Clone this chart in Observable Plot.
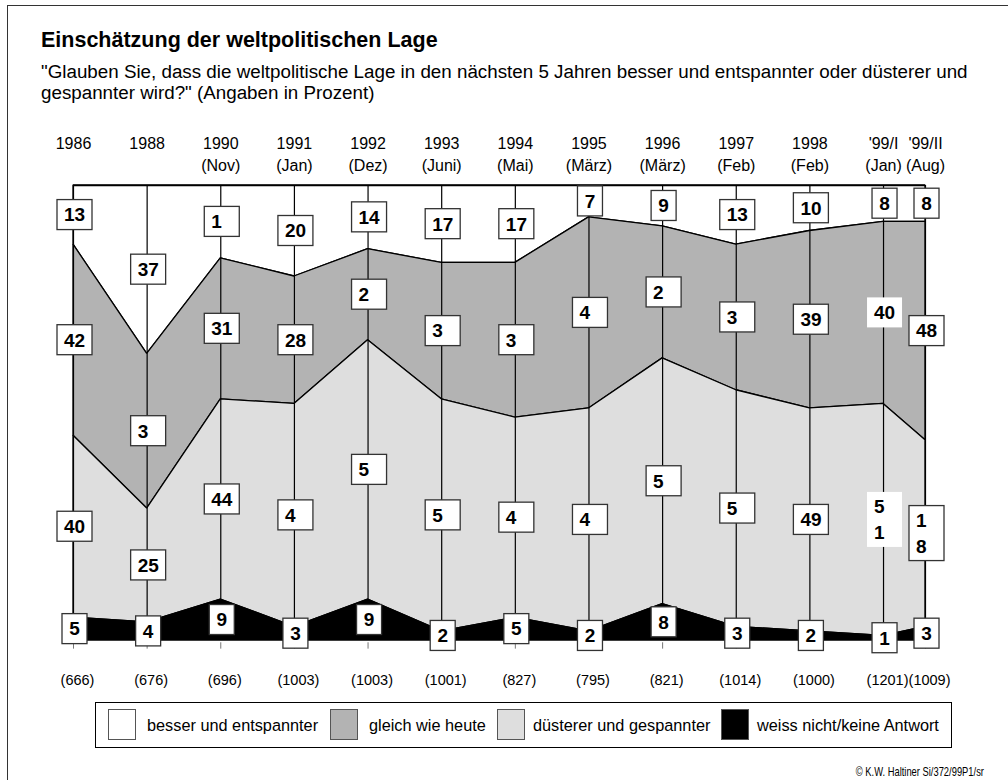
<!DOCTYPE html>
<html><head><meta charset="utf-8">
<script src="https://cdn.jsdelivr.net/npm/d3@7"></script>
<script src="https://cdn.jsdelivr.net/npm/@observablehq/plot@0.6"></script>
<style>
body{margin:0;background:#fff;font-family:"Liberation Sans",Arial,sans-serif;color:#000}
#page{position:relative;width:1008px;height:780px;overflow:hidden;background:#fff}
#frameTop{position:absolute;left:7px;top:5px;width:1001px;height:0;border-top:1px solid #333}
#frameLeft{position:absolute;left:7px;top:5px;width:0;height:775px;border-left:1px solid #333}
#title{position:absolute;left:41px;top:28px;font-size:21.5px;font-weight:bold;line-height:24px;white-space:nowrap}
#sub{position:absolute;left:41px;top:61px;font-size:18.8px;line-height:21px;white-space:nowrap}
#chart{position:absolute;left:0;top:120px}
#legend{position:absolute;left:95px;top:702px;width:855px;height:44px;border:1px solid #000}
.sw{position:absolute;top:6px;width:26px;height:29px;border:1px solid #555}
.lt{position:absolute;top:0;line-height:44px;font-size:16.3px;white-space:nowrap}
#copy{position:absolute;right:24px;top:764px;font-size:13px;line-height:16px;white-space:nowrap;transform:scaleX(0.72);transform-origin:right center}
</style>
</head><body>
<div id="page">
  <div id="frameTop"></div><div id="frameLeft"></div>
  <div id="title">Einschätzung der weltpolitischen Lage</div>
  <div id="sub">"Glauben Sie, dass die weltpolitische Lage in den nächsten 5 Jahren besser und entspannter oder düsterer und<br>gespannter wird?" (Angaben in Prozent)</div>
  <div id="chart"></div>
  <div id="legend"></div>
  <div id="copy">© K.W. Haltiner Si/372/99P1/sr</div>
</div>
<script>
// ---- data ----
const periods = ["1986","1988","1990","1991","1992","1993","1994","1995","1996","1997","1998","'99/I","'99/II"];
const months = ["","","(Nov)","(Jan)","(Dez)","(Juni)","(Mai)","(März)","(März)","(Feb)","(Feb)","(Jan)","(Aug)"];
const sampleSizes = ["(666)","(676)","(696)","(1003)","(1003)","(1001)","(827)","(795)","(821)","(1014)","(1000)","(1201)","(1009)"];
const seriesNames = ["besser und entspannter","gleich wie heute","düsterer und gespannter","weiss nicht/keine Antwort"];
const seriesColors = ["#ffffff","#b3b3b3","#dedede","#000000"];
const besser     = [13,37,16,20,14,17,17, 7, 9,13,10, 8, 8];
const gleich     = [42,34,31,28,20,30,34,42,29,32,39,40,48];
const duesterer  = [40,25,44,49,57,51,44,49,54,52,49,51,41];
const weissNicht = [ 5, 4, 9, 3, 9, 2, 5, 2, 8, 3, 2, 1, 3];
// value labels as printed in the original (some truncated)
const besserLabels     = ["13","37","1","20","14","17","17","7","9","13","10","8","8"];
const gleichLabels     = ["42","3","31","28","2","3","3","4","2","3","39","40","48"];
const duestererLabels  = ["40","25","44","4","5","5","4","4","5","5","49","5\n1","1\n8"];
const weissNichtLabels = ["5","4","9","3","9","2","5","2","8","3","2","1","3"];

// ---- layout helpers ----
const xOf = i => (i === periods.length - 1 ? i - 0.43 : i); // last survey half a year later
const xLast = xOf(periods.length - 1);
const borderless = new Set(["1-11", "2-11"]); // series-index boxes without frame

const seriesValues = [besser, gleich, duesterer, weissNicht];
const seriesLabels = [besserLabels, gleichLabels, duestererLabels, weissNichtLabels];

const rows = [];
const labelRows = [];
periods.forEach((p, i) => {
  let cum = 0;
  seriesValues.forEach((vals, s) => {
    rows.push({x: xOf(i), series: seriesNames[s], value: vals[i]});
    labelRows.push({x: xOf(i), mid: cum + vals[i] / 2, value: vals[i], label: seriesLabels[s][i], border: !borderless.has(s + "-" + i)});
    cum += vals[i];
  });
});
const headers = periods.map((p, i) => ({x: xOf(i), text: months[i] ? p + "\n" + months[i] : p}));
const bottoms = periods.map((p, i) => ({x: xOf(i), text: sampleSizes[i]}));

function labelBoxes(index, scales, values, dimensions, context) {
  const g = d3.create("svg:g");
  for (const d of labelRows) {
    const cx = scales.x(d.x) + 1.5, cy = scales.y(d.mid);
    const lines = d.label.split("\n");
    const w = d.value >= 10 ? 35 : 25;
    const h = lines.length > 1 ? 55 : 30;
    g.append("rect").attr("x", cx - w / 2).attr("y", cy - h / 2).attr("width", w).attr("height", h)
      .attr("fill", "#fff").attr("stroke", d.border ? "#333" : "none").attr("stroke-width", 1.3);
    const t = g.append("text").attr("font-weight", "bold").attr("font-size", 19)
      .attr("font-family", "'Liberation Sans', Arial, sans-serif")
      .attr("text-anchor", d.value >= 10 ? "start" : "middle");
    lines.forEach((ln, k) => {
      t.append("tspan").attr("x", d.value >= 10 ? cx - w / 2 + 7 : cx)
        .attr("y", cy + (k - (lines.length - 1) / 2) * 26).attr("dy", "0.36em").text(ln);
    });
  }
  return g.node();
}

const chart = Plot.plot({
  width: 1008, height: 570,
  marginLeft: 73, marginRight: 83, marginTop: 65, marginBottom: 50,
  style: {fontFamily: "'Liberation Sans', Arial, sans-serif", background: "transparent"},
  x: {type: "linear", domain: [0, xLast], axis: null},
  y: {domain: [0, 100], reverse: true, axis: null},
  color: {domain: seriesNames, range: seriesColors},
  marks: [
    Plot.areaY(rows, {x: "x", y: "value", z: "series", fill: "series", order: seriesNames, stroke: "#000", strokeWidth: 1.3, strokeLinejoin: "miter"}),
    Plot.ruleX(periods.map((p, i) => xOf(i)), {x: d => d, y1: 0, y2: 100, stroke: "#000", strokeWidth: 1.2}),
    Plot.ruleY([0], {x1: 0, x2: xLast, stroke: "#000", strokeWidth: 1.3}),
    Plot.ruleX(periods.map((p, i) => xOf(i)), {x: d => d, y1: 100.5, y2: 101.9, stroke: "#777", strokeWidth: 1}),
    labelBoxes,
    Plot.text(headers, {x: "x", text: "text", frameAnchor: "top", lineAnchor: "top", dy: -51, fontSize: 16, lineHeight: 1.32, fill: "#000"}),
    Plot.text(bottoms, {x: "x", text: "text", frameAnchor: "bottom", lineAnchor: "middle", dy: 40, dx: 4, fontSize: 14.5, fill: "#000"})
  ]
});
document.getElementById("chart").appendChild(chart);

// legend
const legend = d3.select("#legend");
const swLeft = [12, 234, 401, 625];
const txLeft = [51, 273, 437, 661];
seriesNames.forEach((n, s) => {
  legend.append("div").attr("class", "sw").style("left", swLeft[s] + "px").style("background", seriesColors[s]);
  legend.append("div").attr("class", "lt").style("left", txLeft[s] + "px").text(n);
});
</script>
</body></html>
